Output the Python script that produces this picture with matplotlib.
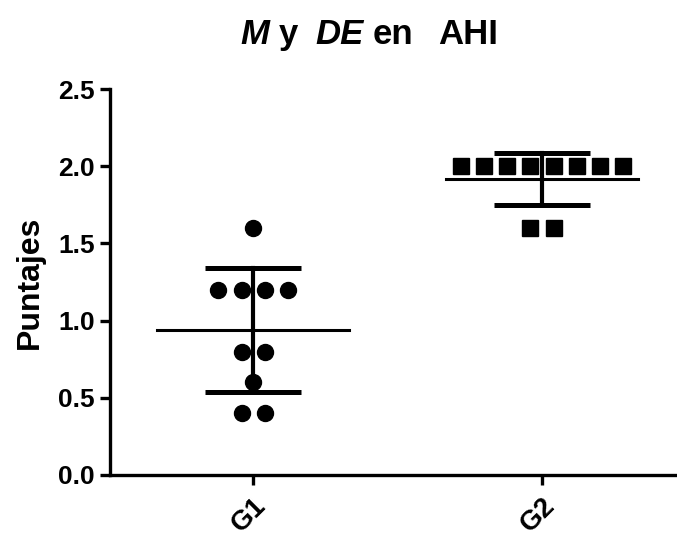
import numpy as np
import matplotlib
matplotlib.use("Agg")
import matplotlib.pyplot as plt

plt.rcParams["font.family"] = ["Liberation Sans", "DejaVu Sans"]
plt.rcParams["font.weight"] = "bold"

# puntajes por grupo
groups = ["G1", "G2"]
g1_scores = [1.6, 1.2, 1.2, 1.2, 1.2, 0.8, 0.8, 0.6, 0.4, 0.4]
g2_scores = [2.0, 2.0, 2.0, 2.0, 2.0, 2.0, 2.0, 2.0, 1.6, 1.6]
markers = ["o", "s"]
yticks = [0.0, 0.5, 1.0, 1.5, 2.0, 2.5]

W, H = 677, 537
fig = plt.figure(figsize=(W / 100, H / 100), dpi=100)
ax = fig.add_axes([0.1625, 0.1155, 0.8375, 0.7185])

step = 0.08  # horizontal spread of tied points
for i, (scores, mk) in enumerate(zip([g1_scores, g2_scores], markers)):
    vals = np.array(scores)
    # scatter: spread identical values side by side
    for v in np.unique(vals):
        n = int((vals == v).sum())
        xs = i + (np.arange(n) - (n - 1) / 2) * step
        ax.plot(xs, [v] * n, linestyle="none", marker=mk, ms=11.5,
                color="black", zorder=2)
    m = vals.mean()
    sd = vals.std(ddof=1)
    ax.plot([i - 0.333, i + 0.333], [m, m], color="black", lw=2.2, zorder=3)
    ax.plot([i, i], [m - sd, m + sd], color="black", lw=3.0, zorder=3)
    for y in (m - sd, m + sd):
        ax.plot([i - 0.167, i + 0.167], [y, y], color="black", lw=3.6,
                zorder=3, solid_capstyle="butt")

ax.set_xlim(-0.495, 1.467)
ax.set_ylim(0, 2.5)
ax.set_yticks(yticks)
ax.set_yticklabels([f"{t:.1f}" for t in yticks])
ax.set_xticks(range(len(groups)))
ax.set_xticklabels(groups, rotation=45, ha="right", va="top",
                   rotation_mode="anchor")

for side in ("top", "right"):
    ax.spines[side].set_visible(False)
for side in ("left", "bottom"):
    ax.spines[side].set_linewidth(2.4)
ax.tick_params(width=2.4, length=7, labelsize=19)
ax.tick_params(axis="y", pad=4)
ax.tick_params(axis="x", pad=6, labelsize=20)
for lbl in ax.get_xticklabels() + ax.get_yticklabels():
    lbl.set_fontweight("bold")

ax.set_ylabel("Puntajes", fontsize=23, fontweight="bold")
ax.yaxis.set_label_coords(-(110 - 45) / (0.8375 * W), 0.5)

# title in pieces: M and DE in italics
title_parts = [("M", "italic", 240), ("y", "normal", 279),
               ("DE", "italic", 315), ("en", "normal", 373),
               ("AHI", "normal", 438)]
for txt, style, px in title_parts:
    fig.text(px / W, 1 - 44 / H, txt, ha="left", va="baseline",
             fontsize=25, fontweight="bold", fontstyle=style)

fig.savefig("out.png", dpi=100)
